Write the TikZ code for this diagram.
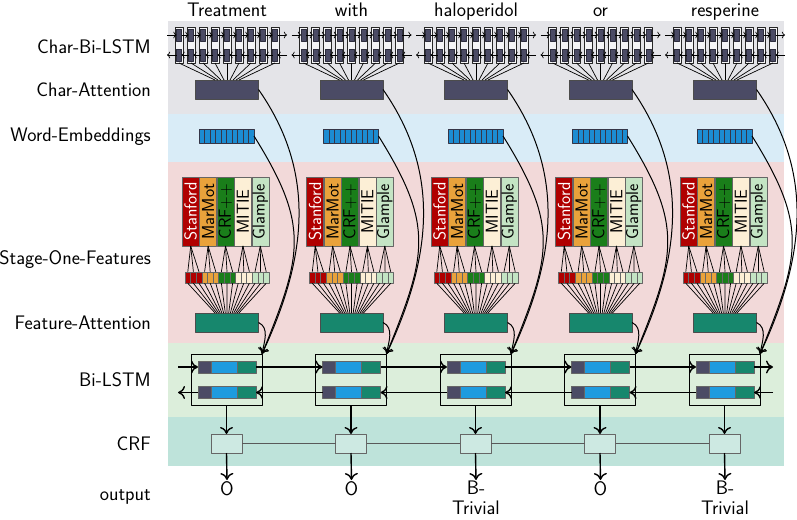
\documentclass[tikz,border=0pt]{standalone}
\usepackage{fontspec}
\usetikzlibrary{arrows.meta}

\definecolor{bandgray}{HTML}{E4E4E8}
\definecolor{bandblue}{HTML}{D9ECF7}
\definecolor{bandpink}{HTML}{F2D9D9}
\definecolor{bandgreen}{HTML}{DCEEDB}
\definecolor{bandteal}{HTML}{BEE3DA}
\definecolor{slate}{HTML}{4B4B65}
\definecolor{lstmblue}{HTML}{1E9BDF}
\definecolor{attgreen}{HTML}{17876D}
\definecolor{embblue}{HTML}{1C8CD2}
\definecolor{fstan}{HTML}{B00000}
\definecolor{fmar}{HTML}{E9A23B}
\definecolor{fcrf}{HTML}{1A7E1A}
\definecolor{fmit}{HTML}{FCEFD6}
\definecolor{fgla}{HTML}{C4E4C4}
\definecolor{crffill}{HTML}{CDE9E2}

\begin{document}
\begin{tikzpicture}[x=1pt, y=-1pt, line join=round,
    font=\sffamily\fontsize{19.6}{22}\selectfont,
    >={Computer Modern Rightarrow},
    lbl/.style={anchor=base east, inner sep=0pt},
    wrd/.style={anchor=base, inner sep=0pt},
    blk/.style={inner sep=0pt, outer sep=0pt, anchor=center},
    cellbox/.style={blk, draw=black!85, line width=0.9pt, fill=white!60!bandgray, minimum width=8, minimum height=36},
    cellfill/.style={blk, fill=slate, draw=slate!60!black, line width=0.4pt, minimum width=5, minimum height=12},
    att/.style={blk, draw=black!70, line width=0.8pt, minimum width=63, minimum height=19},
    stripe/.style={blk, fill=embblue, draw=slate!70!black, line width=0.6pt, minimum width=5.5, minimum height=14},
    feat/.style={blk, draw=black!60, line width=0.6pt, rotate=90, minimum width=69, minimum height=17,
      font=\sffamily\fontsize{17.4}{18}\selectfont},
    fvec/.style={blk, draw=black!60, line width=0.5pt, minimum width=5.6, minimum height=11.5},
    fan/.style={line width=0.7pt},
    bframe/.style={blk, draw=black, line width=0.9pt, minimum width=71, minimum height=51},
    seg/.style={blk, draw=black!60, line width=0.5pt, minimum height=12},
    chain/.style={line width=1.4pt, -{Computer Modern Rightarrow[length=7pt, width=13pt]}},
    curve/.style={line width=1pt, -{Computer Modern Rightarrow[length=6pt, width=10pt]}},
    crfbox/.style={blk, draw=black!60, line width=1pt, fill=crffill, minimum width=31, minimum height=19},
    outlbl/.style={anchor=north, inner sep=1pt, align=center, font=\sffamily\fontsize{19.6}{19.5}\selectfont}]
  \useasboundingbox (0,0) rectangle (797,519);

  % layer bands
  \fill[bandgray]  (168,21)  rectangle (784,114);
  \fill[bandblue]  (168,114) rectangle (784,162);
  \fill[bandpink]  (168,162) rectangle (784,343);
  \fill[bandgreen] (168,343) rectangle (784,417);
  \fill[bandteal]  (168,417) rectangle (784,466);

  % row names
  \node[lbl] (lcbl) at (151,53)  {Char-Bi-LSTM};
  \node[lbl] (lca)  at (151,96)  {Char-Attention};
  \node[lbl] (lwe)  at (151,141) {Word-Embeddings};
  \node[lbl] (lsof) at (151,264) {Stage-One-Features};
  \node[lbl] (lfa)  at (151,329) {Feature-Attention};
  \node[lbl] (lbl)  at (151,386) {Bi-LSTM};
  \node[lbl] (lcrf) at (151,450) {CRF};
  \node[lbl] (lout) at (151,500) {output};

  \foreach \w/\o [count=\i from 0] in {Treatment/O, with/O, haloperidol/{B-\\Trivial}, or/O, resperine/{B-\\Trivial}} {
    \pgfmathsetmacro\cx{227+124.5*\i}
    \node[wrd] (w\i) at (\cx,17) {\w};

    % character level lstm
    \foreach \j in {0,...,8} {
      \node[cellbox]  (cf\i-\j) at ({\cx+(\j-4)*12},45) {};
      \node[cellfill] (cu\i-\j) at ({\cx+(\j-4)*12},35) {};
      \node[cellfill] (cd\i-\j) at ({\cx+(\j-4)*12},55) {};
    }
    \foreach \j [evaluate=\j as \jj using int(\j+1)] in {0,...,7} {
      \draw[->, fan] (cu\i-\j.east) -- (cu\i-\jj.west);
      \draw[->, fan] (cd\i-\jj.west) -- (cd\i-\j.east);
    }
    \coordinate (cl\i) at ({\cx-60},35);
    \coordinate (cr\i) at ({\cx+60},35);
    \coordinate (dl\i) at ({\cx-60},55);
    \coordinate (dr\i) at ({\cx+60},55);
    \draw[->, fan] (cl\i) -- (cu\i-0.west);
    \draw[->, fan] (cu\i-8.east) -- (cr\i);
    \draw[->, fan] (dr\i) -- (cd\i-8.east);
    \draw[->, fan] (cd\i-0.west) -- (dl\i);

    % char attention
    \node[att, fill=slate] (ca\i) at (\cx,89.5) {};
    \foreach \j in {0,...,8}
      \draw[fan] (cf\i-\j.south) -- ([xshift={(\j-4)*3}]ca\i.north);

    % word embedding
    \foreach \k in {0,...,9}
      \node[stripe] (we\i-\k) at ({\cx-28+5.5*(\k+0.5)},136) {};

    % stage one features
    \node[att, fill=attgreen] (fa\i) at (\cx,322.5) {};
    \foreach \f/\fc/\tc [count=\j from 0] in {Stanford/fstan/white, MarMot/fmar/black, CRF++/fcrf/black, MITIE/fmit/black, Glample/fgla/black} {
      \node[feat, fill=\fc, text=\tc] (f\i-\j) at ({\cx-1.5+(\j-2)*17.4},211.5) {\f};
      \foreach \m in {0,1,2} {
        \node[fvec, fill=\fc] (v\i-\j-\m) at ({\cx-42+5.6*(3*\j+\m+0.5)},277.5) {};
        \draw[fan] (f\i-\j.west) -- (v\i-\j-\m.north);
        \draw[fan] (v\i-\j-\m.south) -- ([xshift={(3*\j+\m-7)*1.7}]fa\i.north);
      }
    }

    % bi-lstm
    \node[bframe] (bl\i) at ({\cx-0.5},379.5) {};
    \node[seg, fill=slate,    minimum width=13] (bua\i) at ({\cx-22.5},367) {};
    \node[seg, fill=lstmblue, minimum width=26] (bub\i) at ({\cx-3},367) {};
    \node[seg, fill=attgreen, minimum width=19] (buc\i) at ({\cx+19.5},367) {};
    \node[seg, fill=slate,    minimum width=13] (bda\i) at ({\cx-22.5},392.5) {};
    \node[seg, fill=lstmblue, minimum width=26] (bdb\i) at ({\cx-3},392.5) {};
    \node[seg, fill=attgreen, minimum width=19] (bdc\i) at ({\cx+19.5},392.5) {};

    % inputs of the bi-lstm
    \draw[curve] (ca\i.east) to[out=-55, in=65] (bl\i.north east);
    \draw[curve] (we\i-9.east) to[out=-58, in=68, looseness=1.25] (bl\i.north east);
    \draw[curve] (fa\i.east) to[out=-25, in=80] (bl\i.north east);

    % crf and output
    \node[crfbox] (crf\i) at ({\cx-0.5},443.5) {};
    \draw[chain] (bl\i.south) -- (crf\i.north);
    \node[outlbl] (o\i) at (\cx,480) {\o};
    \draw[chain] (crf\i.south) -- (o\i.north);
  }

  % recurrent links
  \foreach \i [evaluate=\i as \ii using int(\i+1)] in {0,...,3} {
    \draw[chain] (buc\i.east) -- (bua\ii.west);
    \draw[chain] (bda\ii.west) -- (bdc\i.east);
    \draw[line width=1pt, black!65] (crf\i.east) -- (crf\ii.west);
  }
  \coordinate (lin)  at (178,367);
  \coordinate (rout) at (773,367);
  \coordinate (rin)  at (773,392.5);
  \coordinate (lend) at (178,392.5);
  \draw[chain] (lin) -- (bua0.west);
  \draw[chain] (buc4.east) -- (rout);
  \draw[chain] (rin) -- (bdc4.east);
  \draw[chain] (bda0.west) -- (lend);
\end{tikzpicture}
\end{document}
